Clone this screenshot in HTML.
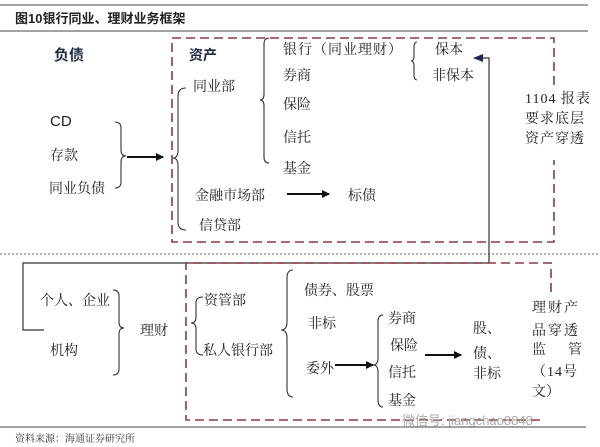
<!DOCTYPE html>
<html><head><meta charset="utf-8"><style>
html,body{margin:0;padding:0;background:#fff;}
svg{display:block;font-family:"Liberation Serif","Noto Serif CJK SC","Noto Sans CJK SC",serif;}
.t{font-size:14px;fill:#222;}
.b{font-weight:bold;fill:#1f2a44;font-family:"Liberation Sans","Noto Sans CJK SC",sans-serif;}
</style></head><body>
<svg width="600" height="447" viewBox="0 0 600 447" xmlns="http://www.w3.org/2000/svg">
<defs><marker id="ah" markerWidth="8" markerHeight="8" refX="7" refY="4" orient="auto" markerUnits="userSpaceOnUse"><path d="M0,0 L8,4 L0,8 z" fill="#111"/></marker>
<marker id="ah2" markerWidth="10" markerHeight="8" refX="9" refY="4" orient="auto" markerUnits="userSpaceOnUse"><path d="M0,0 L10,4 L0,8 z" fill="#1f2a5a"/></marker></defs>
<line x1="0" y1="5" x2="588" y2="5" stroke="#444" stroke-width="1"/>
<text x="15" y="23" style="font-size:13px;font-weight:bold;fill:#222;font-family:'Liberation Sans','Noto Sans CJK SC',sans-serif">图10银行同业、理财业务框架</text>
<line x1="0" y1="31" x2="588" y2="31" stroke="#444" stroke-width="1"/>
<!-- top dashed box with gap on right -->
<path d="M554,85 L554,38 L172,38 L172,242 L554,242 L554,160" fill="none" stroke="#8b3a46" stroke-width="1.6" stroke-dasharray="9,5"/>
<text x="54" y="60" class="t b" style="font-size:15px">负债</text>
<text x="189" y="60" class="t b" style="font-size:14px">资产</text>
<text x="193" y="91" class="t">同业部</text>
<text x="283" y="54" class="t" letter-spacing="1">银行（同业理财）</text>
<text x="283" y="80" class="t">券商</text>
<text x="283" y="109" class="t">保险</text>
<text x="283" y="142" class="t">信托</text>
<text x="283" y="173" class="t">基金</text>
<text x="435" y="54" class="t">保本</text>
<text x="432" y="80" class="t">非保本</text>
<text x="50" y="126" style="font-size:15px;font-family:'Liberation Sans',sans-serif;fill:#222">CD</text>
<text x="50" y="160" class="t">存款</text>
<text x="49" y="193" class="t">同业负债</text>
<text x="195" y="200" class="t">金融市场部</text>
<text x="348" y="200" class="t">标债</text>
<text x="199" y="230" class="t">信贷部</text>
<text x="525" y="103" class="t" letter-spacing="1">1104 报表</text>
<text x="525" y="123" class="t" letter-spacing="1">要求底层</text>
<text x="525" y="143" class="t" letter-spacing="1">资产穿透</text>
<g fill="none" stroke="#333" stroke-width="1.1">
<path d="M115,122 Q121,122 121,128 L121,150 Q121,156 126,156 Q121,156 121,162 L121,182 Q121,188 115,188"/>
<path d="M186,88 Q178,88 178,96 L178,150 Q178,158 173,158 Q178,158 178,166 L178,222 Q178,230 186,230"/>
<path d="M269,38 Q264,38 264,44 L264,94 Q264,100 260,100 Q264,100 264,106 L264,157 Q264,163 269,163"/>
<path d="M417,42 Q414,42 414,47 L414,56 Q414,61 411,61 Q414,61 414,66 L414,75 Q414,80 417,80"/>
</g>
<line x1="127" y1="157" x2="163" y2="157" stroke="#111" stroke-width="2" marker-end="url(#ah)"/>
<line x1="287" y1="194" x2="329" y2="194" stroke="#111" stroke-width="2" marker-end="url(#ah)"/>
<line x1="0" y1="254" x2="600" y2="254" stroke="#888" stroke-width="1.2" stroke-dasharray="2,2"/>
<polyline points="44,330 23,330 23,263 489,263 489,58 474,58" fill="none" stroke="#333" stroke-width="1.2" marker-end="url(#ah2)"/>
<!-- bottom dashed box -->
<path d="M551,292 L551,263 L186,263 L186,420 L540,420" fill="none" stroke="#8b3a46" stroke-width="1.6" stroke-dasharray="9,5"/>
<text x="40" y="305" class="t">个人、企业</text>
<text x="50" y="355" class="t">机构</text>
<text x="140" y="335" class="t">理财</text>
<text x="204" y="305" class="t">资管部</text>
<text x="203" y="355" class="t">私人银行部</text>
<text x="304" y="295" class="t">债券、股票</text>
<text x="308" y="328" class="t">非标</text>
<text x="306" y="373" class="t">委外</text>
<text x="388" y="323" class="t">券商</text>
<text x="390" y="350" class="t">保险</text>
<text x="388" y="377" class="t">信托</text>
<text x="388" y="405" class="t">基金</text>
<text x="473" y="333" class="t">股、</text>
<text x="473" y="358" class="t">债、</text>
<text x="473" y="378" class="t">非标</text>
<text x="532" y="312" class="t" letter-spacing="2">理财产</text>
<text x="532" y="335" class="t" letter-spacing="2">品穿透</text>
<text x="532" y="354" class="t">监<tspan x="568">管</tspan></text>
<text x="532" y="376" class="t" letter-spacing="1">（14号</text>
<text x="532" y="396" class="t">文）</text>
<g fill="none" stroke="#333" stroke-width="1.1">
<path d="M113,290 Q119,290 119,296 L119,322 Q119,328 124,328 Q119,328 119,334 L119,369 Q119,375 113,375"/>
<path d="M203,297 Q196,297 196,303 L196,317 Q196,323 191,323 Q196,323 196,329 L196,349 Q196,355 203,355"/>
<path d="M293,270 Q287,270 287,278 L287,322 Q287,330 281,330 Q287,330 287,338 L287,389 Q287,397 293,397"/>
<path d="M383,315 Q378,315 378,322 L378,358 Q378,365 373,365 Q378,365 378,372 L378,400 Q378,407 383,407"/>
</g>
<line x1="335" y1="365" x2="373" y2="365" stroke="#111" stroke-width="2" marker-end="url(#ah)"/>
<line x1="425" y1="355" x2="461" y2="355" stroke="#111" stroke-width="2" marker-end="url(#ah)"/>
<text x="402" y="425" style="font-size:13px;fill:#aaa;font-family:'Liberation Sans','Noto Sans CJK SC',sans-serif">微信号: jiangchao8848</text>
<line x1="0" y1="427" x2="586" y2="427" stroke="#444" stroke-width="1"/>
<text x="15" y="442" style="font-size:10px;fill:#333;font-family:'Liberation Serif','Noto Serif CJK SC',serif">资料来源：海通证券研究所</text>
</svg>
</body></html>
